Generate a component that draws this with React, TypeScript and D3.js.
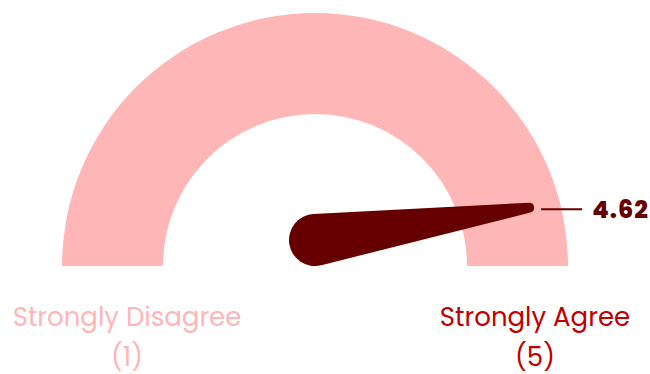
import React from "react";
import * as d3 from "d3";

// ---- data ----
const gaugeDomain = [1, 5];
const gaugeValue = [4.62];
const endLabels = ["Strongly Disagree", "Strongly Agree"];
const endValueLabels = ["(1)", "(5)"];

const W = 650;
const H = 374;
const cx = 315;
const cy = 266;
const outerR = 253;
const innerR = 152;
const pivotLift = 26;
const baseR = 26;
const tipR = 5;
const tipDist = 222;

const FONT = "Poppins, Inter, 'Open Sans', sans-serif";

export default function App() {
  const arcGen = d3
    .arc<any>()
    .innerRadius(innerR)
    .outerRadius(outerR)
    .startAngle(-Math.PI / 2)
    .endAngle(Math.PI / 2);
  const bandPath = arcGen({}) as string;

  // angle scale (radians from vertical, clockwise)
  const angle = d3
    .scaleLinear()
    .domain(gaugeDomain)
    .range([-Math.PI / 2 - 0.04, Math.PI / 2 + 0.04]);

  const v = gaugeValue[0];
  const a = angle(v);
  const T = { x: cx + tipDist * Math.sin(a), y: cy - tipDist * Math.cos(a) };
  const P = { x: cx, y: cy - pivotLift };

  const dx = T.x - P.x;
  const dy = T.y - P.y;
  const d = Math.hypot(dx, dy);
  const theta = Math.atan2(dy, dx);
  const alpha = Math.acos((baseR - tipR) / d);
  const n1 = theta + alpha;
  const n2 = theta - alpha;
  const A1 = [P.x + baseR * Math.cos(n1), P.y + baseR * Math.sin(n1)];
  const B1 = [T.x + tipR * Math.cos(n1), T.y + tipR * Math.sin(n1)];
  const B2 = [T.x + tipR * Math.cos(n2), T.y + tipR * Math.sin(n2)];
  const A2 = [P.x + baseR * Math.cos(n2), P.y + baseR * Math.sin(n2)];
  const needlePath =
    `M${A1[0]},${A1[1]} L${B1[0]},${B1[1]} ` +
    `A${tipR},${tipR} 0 0 0 ${B2[0]},${B2[1]} ` +
    `L${A2[0]},${A2[1]} ` +
    `A${baseR},${baseR} 0 1 0 ${A1[0]},${A1[1]} Z`;

  const fmt = d3.format(".2f");
  const labelY = T.y + 1.5;

  const labelX = [127, 535];
  const labelColors = ["#ffb6b6", "#c00000"];

  return (
    <svg
      width={W}
      height={H}
      style={{ position: "absolute", left: 0, top: 0, background: "#fff" }}
    >
      <path d={bandPath} transform={`translate(${cx},${cy})`} fill="#ffb6b6" />
      <path d={needlePath} fill="#660000" />
      <line
        x1={T.x + 12}
        x2={T.x + 53}
        y1={labelY}
        y2={labelY}
        stroke="#660000"
        strokeWidth={2}
      />
      <text
        x={T.x + 63}
        y={labelY}
        dy="0.36em"
        fill="#660000"
        fontFamily={FONT}
        fontWeight={800}
        fontSize={24}
        letterSpacing={1}
      >
        {fmt(v)}
      </text>
      {endLabels.map((lab, i) => (
        <g key={lab}>
          <text
            x={labelX[i]}
            y={326}
            textAnchor="middle"
            fill={labelColors[i]}
            fontFamily={FONT}
            fontSize={26}
          >
            {lab}
          </text>
          <text
            x={labelX[i]}
            y={366}
            textAnchor="middle"
            fill={labelColors[i]}
            fontFamily={FONT}
            fontSize={26}
          >
            {endValueLabels[i]}
          </text>
        </g>
      ))}
    </svg>
  );
}
